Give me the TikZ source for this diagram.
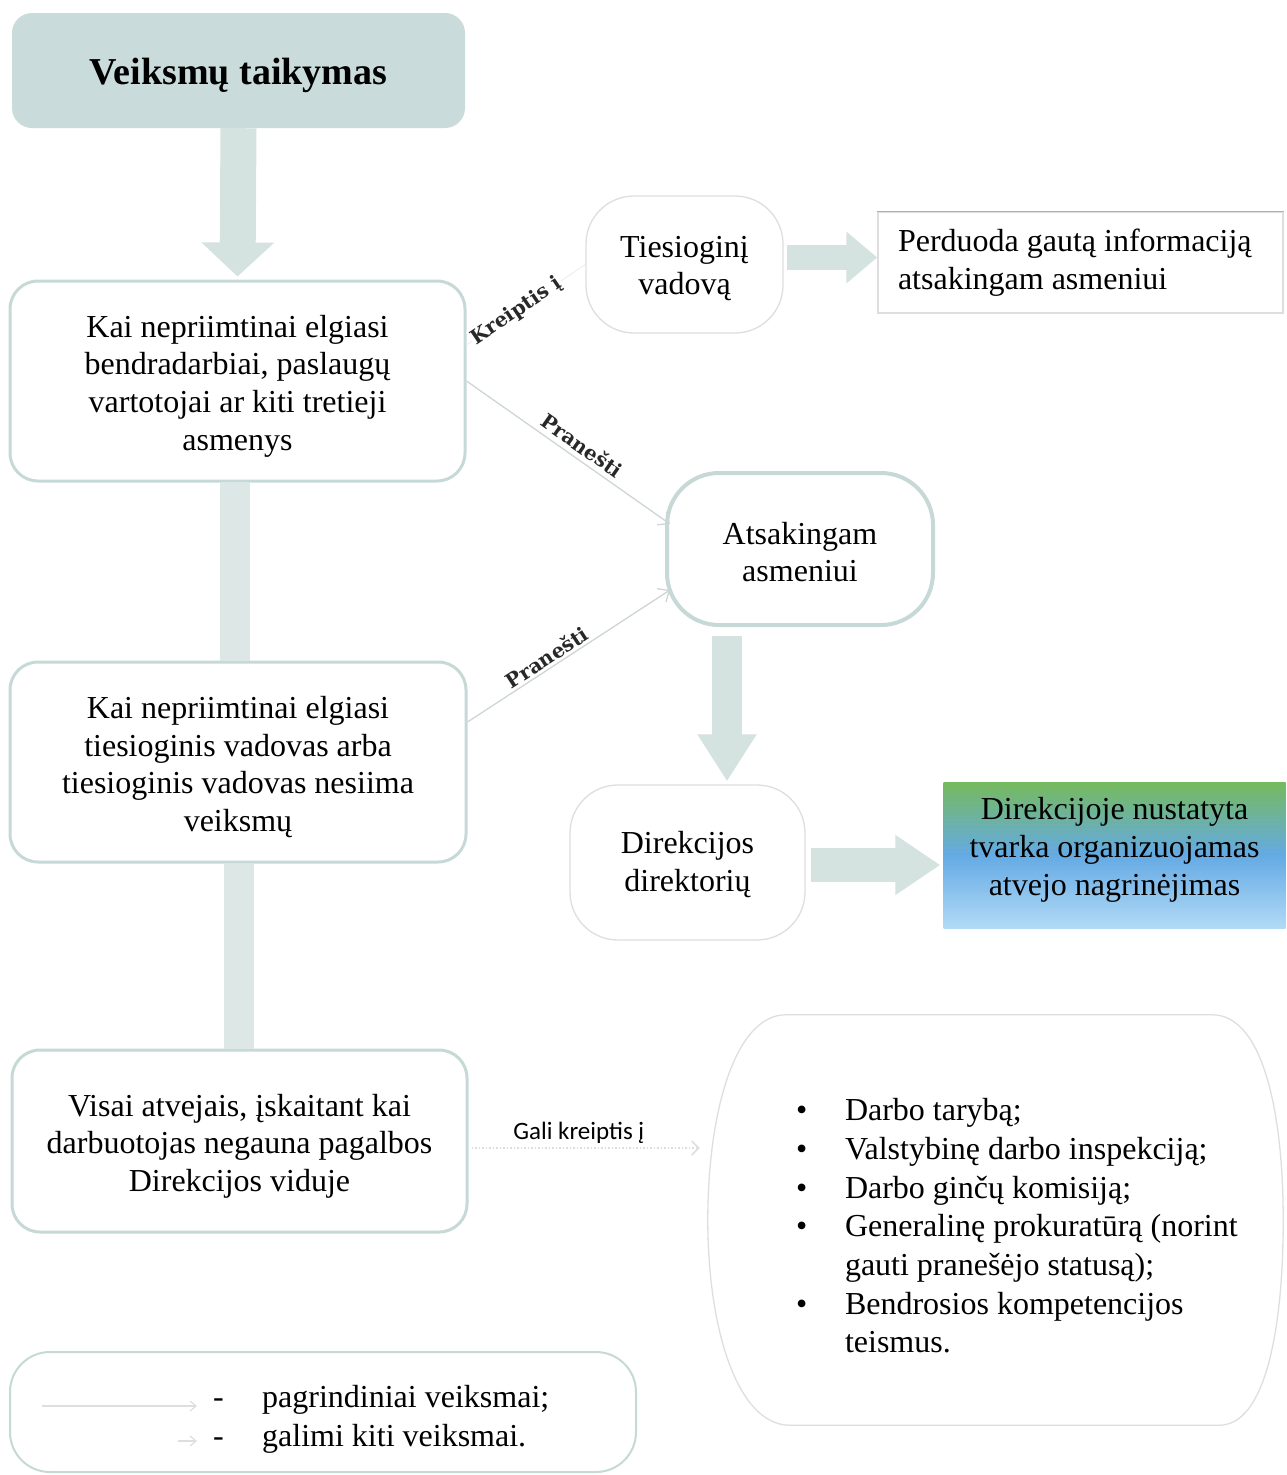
\documentclass[tikz,border=0pt]{standalone}
\usepackage{fontspec}
\setmainfont{Liberation Serif}
\newfontfamily\labfont{DejaVu Serif}
\newfontfamily\calfont{Carlito}
\usetikzlibrary{arrows.meta,calc}
\newcommand\mainfs{\fontsize{32}{37.7}\selectfont}
\definecolor{boxc}{RGB}{198,217,215}
\definecolor{titlec}{RGB}{201,219,218}
\definecolor{arrowc}{RGB}{212,226,224}
\definecolor{barc}{RGB}{221,232,230}
\definecolor{softc}{RGB}{222,222,222}
\definecolor{thinc}{RGB}{205,214,213}
\definecolor{gtop}{RGB}{118,186,94}
\definecolor{gmid}{RGB}{100,170,228}
\definecolor{gbot}{RGB}{178,218,246}
\begin{document}
\begin{tikzpicture}[x=1pt,y=-1pt,
  mainbox/.style={draw=boxc, line width=3pt, rounded corners=28pt, fill=white, inner sep=0pt},
  softbox/.style={draw=softc, line width=1.3pt, rounded corners=48pt, fill=white, inner sep=0pt},
  boxtext/.style={align=center, inner sep=0pt, font=\mainfs},
  bigarrow/.style args={#1/#2/#3}{draw=arrowc, line width=#1, -{Triangle[width=#2,length=#3]}},
  bar/.style={draw=barc, line width=30pt},
  thinarrow/.style={draw=thinc, line width=1.3pt, -{Straight Barb[length=9pt,width=16pt]}},
  elabel/.style={font=\labfont\bfseries\fontsize{20}{24}\selectfont, text={rgb,255:red,40;green,40;blue,40}, sloped, inner sep=1pt},
  legarrow/.style={draw=softc, line width=1.2pt, -{Straight Barb[length=6pt,width=10pt]}}
]
\useasboundingbox (0,0) rectangle (1286,1475);

% main left column
\node[fill=titlec, rounded corners=20pt, minimum width=453pt, minimum height=115pt, inner sep=0pt] (title) at (238.5,70.5) {};
\node[inner sep=0pt, font=\fontsize{38}{42}\selectfont\bfseries] (titlet) at ([yshift=-5pt]title.center) {Veiksmų taikymas};
\node[mainbox, minimum width=455pt, minimum height=200pt] (b1) at (237.5,381) {};
\node[boxtext] (b1t) at ([yshift=-5pt]b1.center)
  {Kai nepriimtinai elgiasi\\bendradarbiai, paslaugų\\vartotojai ar kiti tretieji\\asmenys};
\node[mainbox, minimum width=456pt, minimum height=200pt] (b2) at (238,762) {};
\node[boxtext] (b2t) at ([yshift=-5pt]b2.center)
  {Kai nepriimtinai elgiasi\\tiesioginis vadovas arba\\tiesioginis vadovas nesiima\\veiksmų};
\node[mainbox, minimum width=455pt, minimum height=182pt] (b3) at (239.5,1141) {};
\node[boxtext] (b3t) at ([yshift=-5pt]b3.center)
  {Visai atvejais, įskaitant kai\\darbuotojas negauna pagalbos\\Direkcijos viduje};

% right column
\node[softbox, minimum width=197pt, minimum height=137pt] (tv) at (684.5,264.5) {};
\node[boxtext] (tvt) at ([yshift=-4pt]tv.center) {Tiesioginį\\vadovą};
\node[draw=softc, line width=1.5pt, fill=white, minimum width=405pt, minimum height=101pt, inner sep=0pt,
      text width=365pt, align=flush left, font=\mainfs] (pd) at (1080.5,262.5)
  {Perduoda gautą informaciją\\atsakingam asmeniui};
\draw[draw={rgb,255:red,150;green,192;blue,150}, line width=1.5pt] (pd.north west) -- (pd.north east);
\node[draw=boxc, line width=4pt, rounded corners=52pt, fill=white, minimum width=266pt, minimum height=152pt,
      inner sep=0pt] (at) at (800,549) {};
\node[boxtext] (att) at ([yshift=-3pt]at.center) {Atsakingam\\asmeniui};
\node[softbox, minimum width=235pt, minimum height=155pt] (dd) at (687.5,862.5) {};
\node[boxtext] (ddt) at ([yshift=-2pt]dd.center) {Direkcijos\\direktorių};
\node[top color=gtop, bottom color=gbot, middle color=gmid, minimum width=342pt, minimum height=146pt,
      inner sep=0pt] (gb) at (1114.5,855) {};
\node[boxtext] (gbt) at ([yshift=5pt]gb.center) {Direkcijoje nustatyta\\tvarka organizuojamas\\atvejo nagrinėjimas};

% list box (barrel shape)
\node[minimum width=573pt, minimum height=410pt, inner sep=0pt] (list) at (996.5,1220) {};
\draw[draw=softc, line width=1.3pt]
  ([xshift=76pt]list.north west) -- ([xshift=-71pt]list.north east)
  .. controls ([xshift=-21pt]list.north east) and ([yshift=110pt]list.east)
  .. (list.east)
  .. controls ([yshift=-110pt]list.east) and ([xshift=-18pt]list.south east)
  .. ([xshift=-64pt]list.south east) -- ([xshift=80pt]list.south west)
  .. controls ([xshift=28pt]list.south west) and ([yshift=-110pt,xshift=-2pt]list.west)
  .. ([xshift=-2pt]list.west)
  .. controls ([yshift=110pt,xshift=-2pt]list.west) and ([xshift=26pt]list.north west)
  .. cycle;
\node[text width=450pt, align=flush left, inner sep=0pt, font=\fontsize{32}{38.7}\selectfont] (listtext) at (1021,1226)
  {\makebox[49pt][l]{\textbullet}Darbo tarybą;\\
   \makebox[49pt][l]{\textbullet}Valstybinę darbo inspekciją;\\
   \makebox[49pt][l]{\textbullet}Darbo ginčų komisiją;\\
   \makebox[49pt][l]{\textbullet}Generalinę prokuratūrą (norint\\
   \hspace*{49pt}gauti pranešėjo statusą);\\
   \makebox[49pt][l]{\textbullet}Bendrosios kompetencijos\\
   \hspace*{49pt}teismus.};

% legend
\node[draw=boxc, line width=2pt, rounded corners=40pt, minimum width=626pt, minimum height=120pt, inner sep=0pt] (legend) at (323,1412) {};
\coordinate (lgA) at (42,1406);
\coordinate (lgB) at (197,1406);
\coordinate (lgC) at (178,1441);
\coordinate (lgD) at (197,1441);
\draw[legarrow] (lgA) -- (lgB);
\draw[legarrow] (lgC) -- (lgD);
\node[anchor=base west, inner sep=0pt, font=\mainfs] (lg1) at (213,1407) {\makebox[49pt][l]{-}pagrindiniai veiksmai;};
\node[anchor=base west, inner sep=0pt, font=\mainfs] (lg2) at (213,1446) {\makebox[49pt][l]{-}galimi kiti veiksmai.};

% block arrows and bars
\draw[bigarrow=36pt/71pt/34pt] (title.south) -- ([yshift=3pt]b1.north);
\draw[bar] ([xshift=-2.5pt]b1.south) -- ([xshift=-3pt]b2.north);
\draw[bar] ([xshift=1pt]b2.south) -- ([xshift=-0.5pt]b3.north);
\draw[bigarrow=25pt/50pt/31pt] ([xshift=3pt,yshift=7pt]tv.east) -- ([yshift=5pt]pd.west);
\draw[bigarrow=30pt/56pt/47pt] ([xshift=-73pt,yshift=-9pt]at.south) -- ([xshift=39.5pt,yshift=3pt]dd.north);
\draw[bigarrow=34pt/57pt/45pt] ([xshift=5pt,yshift=-2.5pt]dd.east) -- ([xshift=-3pt,yshift=-10pt]gb.west);

% thin connectors
\draw[draw={rgb,255:red,236;green,240;blue,240}, line width=1pt] ([yshift=36pt]b1.east) -- (tv.west)
  node[elabel, pos=0.42, fill=white] (lk) {Kreiptis į};
\draw[thinarrow] (b1.east) -- ([xshift=5pt,yshift=25pt]at.west)
  node[elabel, pos=0.53, above=4pt] (lp1) {Pranešti};
\draw[thinarrow] ([yshift=40pt]b2.east) -- ([xshift=5pt,yshift=-41pt]at.west)
  node[elabel, pos=0.42, above=1pt] (lp2) {Pranešti};
\draw[draw=softc, line width=1.5pt, dotted, -{Straight Barb[length=7pt,width=14pt]}]
  ([xshift=3pt,yshift=-7pt]b3.east) -- ([xshift=-10pt,yshift=-7pt]b3.east -| list.west)
  node[pos=0.47, above=4pt, font=\calfont\fontsize{25}{28}\selectfont, inner sep=0pt] (lg) {Gali kreiptis į};
\end{tikzpicture}
\end{document}
